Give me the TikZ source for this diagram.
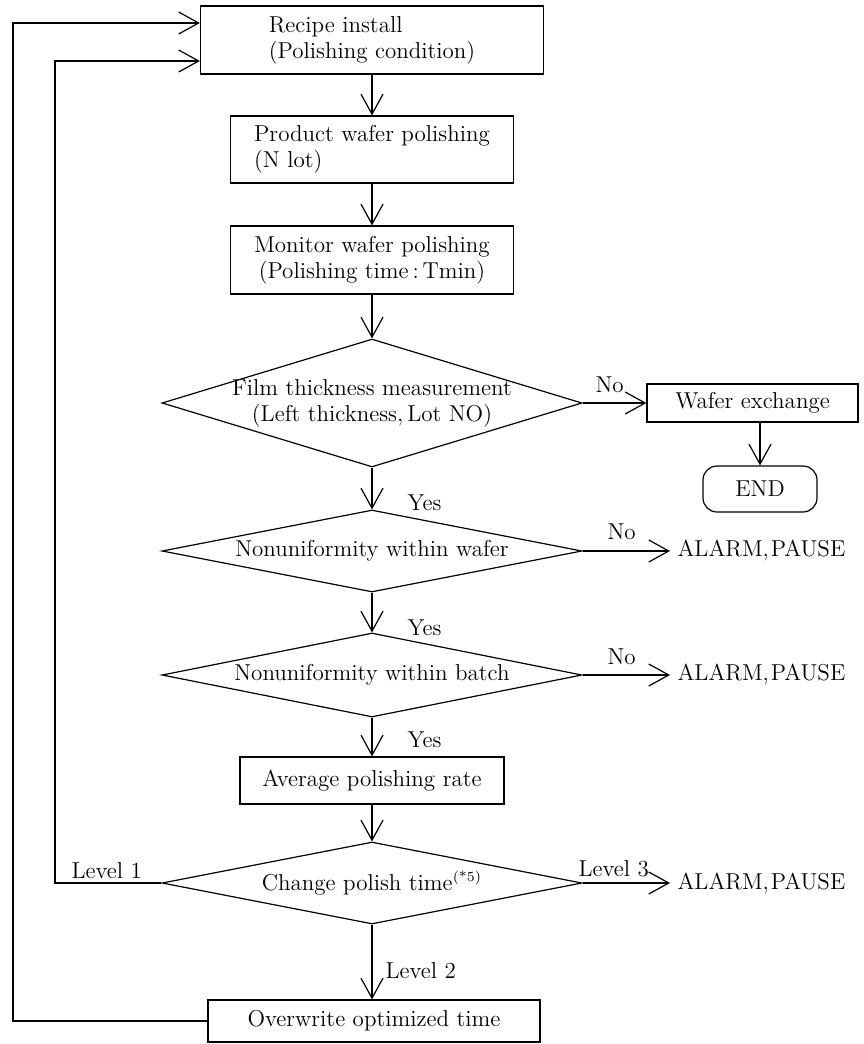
\documentclass[tikz,border=0pt]{standalone}
\usetikzlibrary{arrows.meta,shapes.geometric}
\begin{document}
\begin{tikzpicture}[x=0.5pt,y=-0.5pt,
  font=\fontsize{11.5}{13}\selectfont,
  line width=0.6pt,
  >={Straight Barb[length=10pt,width=11pt,line width=0.6pt]},
  box/.style={draw,rectangle,inner sep=0pt},
  dia/.style={draw,diamond,inner sep=0pt},
  lbl/.style={inner sep=0pt},
  alarm/.style={inner xsep=3.5pt,inner ysep=0pt,anchor=west}]
\useasboundingbox (0,0) rectangle (863,1044);

% process boxes
\node[box,minimum width=171.5pt,minimum height=34pt,align=left] (recipe) at (372,40) {Recipe install\\(Polishing condition)};
\node[box,minimum width=141.5pt,minimum height=33.5pt,align=left] (product) at (372,149.5) {Product wafer polishing\\(N lot)};
\node[box,minimum width=141.5pt,minimum height=34pt,align=center] (monitor) at (372,260) {Monitor wafer polishing\\(Polishing time\,:\,Tmin)};

% decision 1
\node[dia,minimum width=210pt,minimum height=64pt] (d1) at (372,403) {};
\node[lbl,align=center] (d1t) at (d1.center) {Film thickness measurement\\(Left thickness,\kern2pt Lot NO)};
\node[box,minimum width=105.5pt,minimum height=19pt] (wx) at (752.5,403) {Wafer exchange};
\node[box,rounded corners=7pt,minimum width=57pt,minimum height=23pt] (endn) at (760,489) {END};

% decision 2
\node[dia,minimum width=210pt,minimum height=41pt] (d2) at (372,551) {};
\node[lbl] (d2t) at (d2.center) {Nonuniformity within wafer};
\node[alarm] (a1) at (670,551) {ALARM,\kern1pt PAUSE};

% decision 3
\node[dia,minimum width=210pt,minimum height=42pt] (d3) at (372,675) {};
\node[lbl] (d3t) at (d3.center) {Nonuniformity within batch};
\node[alarm] (a2) at (670,675) {ALARM,\kern1pt PAUSE};

% average
\node[box,minimum width=132pt,minimum height=23.5pt] (avg) at (372,780.5) {Average polishing rate};

% decision 4
\node[dia,minimum width=210pt,minimum height=41pt] (d4) at (372,883) {};
\node[lbl] (d4t) at (d4.center) {Change polish time\textsuperscript{\scriptsize(*5)}};
\node[alarm] (a3) at (670,883) {ALARM,\kern1pt PAUSE};

% overwrite
\node[box,minimum width=166pt,minimum height=21pt] (ow) at (374,1021) {Overwrite optimized time};

% labels
\node[lbl,anchor=base west] (no1) at (595,392) {No};
\node[lbl,anchor=base west] (yes1) at (407,510) {Yes};
\node[lbl,anchor=base west] (no2) at (607,539) {No};
\node[lbl,anchor=base west] (yes2) at (407,635) {Yes};
\node[lbl,anchor=base west] (no3) at (607,664) {No};
\node[lbl,anchor=base west] (yes3) at (407,747) {Yes};
\node[lbl,anchor=base west] (lv1) at (71,878) {Level 1};
\node[lbl,anchor=base west] (lv3) at (578,876) {Level 3};
\node[lbl,anchor=base west] (lv2) at (385,978) {Level 2};

% loop bend points
\coordinate (loopA) at (55,61);
\coordinate (loopB) at (13,23);

% connectors
\draw[->] (recipe.south) -- (product.north);
\draw[->] (product.south) -- (monitor.north);
\draw[->] (monitor.south) -- (d1.north);
\draw[->] (d1.east) -- (wx.west);
\draw[->] (endn.north |- wx.south) -- (endn.north);
\draw[->] (d1.south) -- (d2.north);
\draw[->] (d2.east) -- (a1.west);
\draw[->] (d2.south) -- (d3.north);
\draw[->] (d3.east) -- (a2.west);
\draw[->] (d3.south) -- (avg.north);
\draw[->] (avg.south) -- (d4.north);
\draw[->] (d4.east) -- (a3.west);
\draw[->] (d4.south) -- (ow.north -| d4.south);
\draw[->] (d4.west) -| (loopA) -- (loopA -| recipe.west);
\draw[->] (ow.west) -| (loopB) -- (loopB -| recipe.west);
\end{tikzpicture}
\end{document}
